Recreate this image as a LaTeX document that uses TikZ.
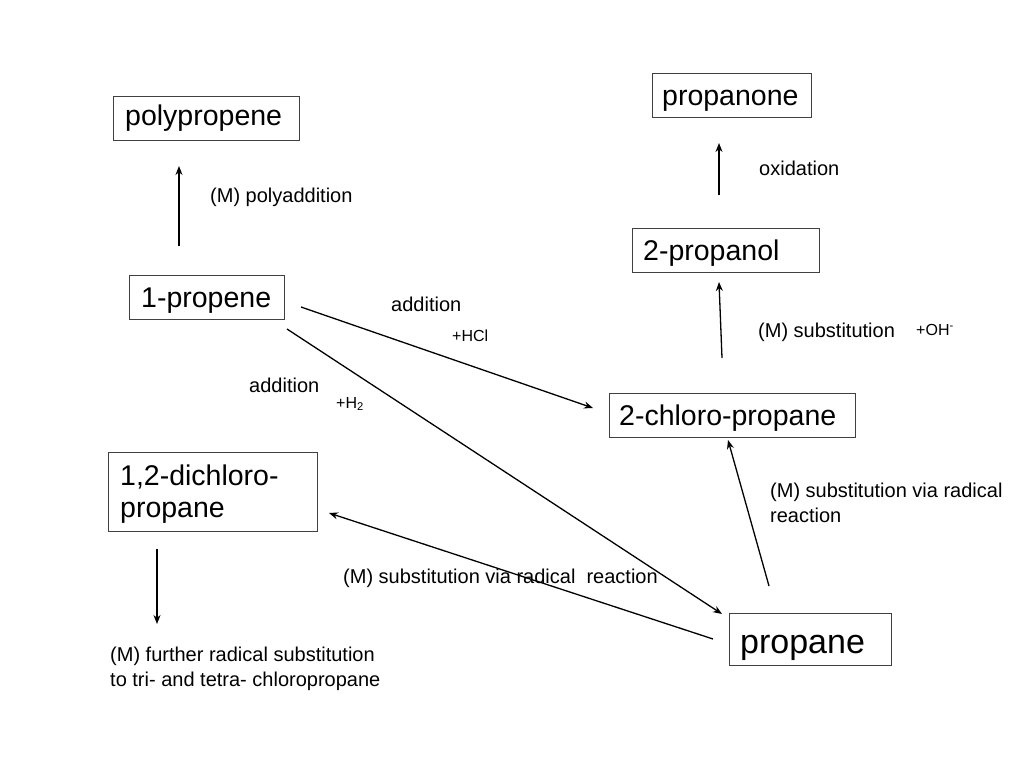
\documentclass[tikz,border=0pt]{standalone}
\usepackage{fontspec}
\setmainfont{Liberation Sans}
\usetikzlibrary{arrows.meta,calc}
\begin{document}
\begin{tikzpicture}[x=1pt,y=-1pt,
  box/.style={draw=black!75, line width=1.2pt, inner sep=0pt, anchor=north west},
  btxt/.style={anchor=base west, inner sep=0pt, align=left, font=\fontsize{28.5}{32}\selectfont},
  lbl/.style={anchor=west, inner sep=0pt, align=left, font=\fontsize{20}{24.5}\selectfont},
  sml/.style={anchor=west, inner sep=0pt, font=\fontsize{16}{19}\selectfont},
  arr/.style={line width=1.3pt, -{Stealth[length=9pt,width=7pt]}}]
\useasboundingbox (0,0) rectangle (1024,768);
% boxes
\node[box, minimum width=186, minimum height=44] (pp) at (113,96) {};
\node[btxt] (ppt) at ($(pp.north west)+(12,29)$) {polypropene};
\node[box, minimum width=159, minimum height=44] (pn) at (652,73) {};
\node[btxt] (pnt) at ($(pn.north west)+(10,32)$) {propanone};
\node[box, minimum width=187, minimum height=44] (pl) at (632,228) {};
\node[btxt] (plt) at ($(pl.north west)+(11,32)$) {2-propanol};
\node[box, minimum width=155, minimum height=44] (p1) at (129,275) {};
\node[btxt] (p1t) at ($(p1.north west)+(12,32)$) {1-propene};
\node[box, minimum width=246, minimum height=44] (cp) at (609,393) {};
\node[btxt] (cpt) at ($(cp.north west)+(10,32)$) {2-chloro-propane};
\node[box, minimum width=209, minimum height=79] (dc) at (108,452) {};
\node[btxt] (dct1) at ($(dc.north west)+(12,33)$) {1,2-dichloro-};
\node[btxt] (dct2) at ($(dc.north west)+(12,65)$) {propane};
\node[box, minimum width=162, minimum height=52] (pa) at (729,613) {};
\node[btxt, font=\fontsize{34}{38}\selectfont] (pat) at ($(pa.north west)+(11,40)$) {propane};
% arrow end points
\coordinate (a1s) at (179,246); \coordinate (a1e) at (179,166);
\coordinate (a2s) at (719,195); \coordinate (a2e) at (719,143);
\coordinate (a3s) at (722,358); \coordinate (a3e) at (719,282);
\coordinate (a4s) at (301,307); \coordinate (a4e) at (593,408);
\coordinate (a5s) at (287,329); \coordinate (a5e) at (722,614);
\coordinate (a6s) at (713,639); \coordinate (a6e) at (329,513);
\coordinate (a7s) at (769,586); \coordinate (a7e) at (728,440);
\coordinate (a8s) at (157,549); \coordinate (a8e) at (157,624);
\draw[arr] (a1s) -- (a1e);
\draw[arr] (a2s) -- (a2e);
\draw[arr] (a3s) -- (a3e);
\draw[arr] (a4s) -- (a4e);
\draw[arr] (a5s) -- (a5e);
\draw[arr] (a6s) -- (a6e);
\draw[arr] (a7s) -- (a7e);
\draw[arr] (a8s) -- (a8e);
% labels
\node[lbl] (l1) at (210,197) {(M) polyaddition};
\node[lbl] (l2) at (759,168) {oxidation};
\node[lbl] (l3) at (758,332) {(M) substitution};
\node[sml] (l3b) at (916,330) {+OH\textsuperscript{-}};
\node[lbl] (l4) at (391,304) {addition};
\node[sml] (l4b) at (452,336) {+HCl};
\node[lbl] (l5) at (249,385) {addition};
\node[sml] (l5b) at (336,404) {+H\textsubscript{2}};
\node[lbl] (l6) at (770,503) {(M) substitution via radical\\reaction};
\node[lbl] (l7) at (343,578) {(M) substitution via radical\ \ reaction};
\node[lbl] (l8) at (110,669) {(M) further radical substitution\\to tri- and tetra- chloropropane};
\end{tikzpicture}
\end{document}
